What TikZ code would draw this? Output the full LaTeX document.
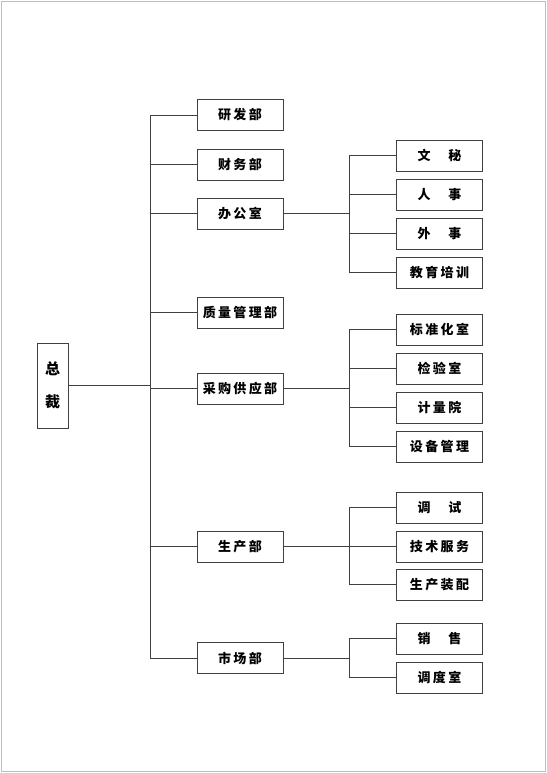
\documentclass[tikz,border=0pt]{standalone}
\usepackage{fontspec}
\newfontfamily\cjk{Noto Sans CJK SC}[LetterSpace=18]
\usepackage{tikz}
\usetikzlibrary{positioning,calc}

\begin{document}
\begin{tikzpicture}[
        x=1pt, y=-1pt,
        box/.style={draw=black!75, line width=0.9pt, inner sep=0pt,
            minimum width=86, minimum height=31, font=\cjk\bfseries\fontsize{13}{15}\selectfont},
        ceobox/.style={draw=black!75, line width=0.9pt, inner sep=0pt, align=center,
            minimum width=31, minimum height=85, font=\cjk\bfseries\fontsize{15}{33}\selectfont},
        link/.style={black!75, line width=0.7pt},
    ]
    \useasboundingbox (0,0) rectangle (546,773);
    % page frame
    \draw[black!25, line width=1pt] (1.5,1.5) rectangle (545,771.5);

    % top
    \node[ceobox] (ceo) at (52.5,385.5) {总\\裁};

    % departments
    \node[box] (rd)     at (240,115)   {研发部};
    \node[box] (fin)    at (240,164.5) {财务部};
    \node[box] (office) at (240,213.5) {办公室};
    \node[box] (qa)     at (240,312.5) {质量管理部};
    \node[box] (purch)  at (240,388.5) {采购供应部};
    \node[box] (prod)   at (240,546.5) {生产部};
    \node[box] (mkt)    at (240,658)   {市场部};

    % sections
    \foreach \name/\y/\txt in {sec/155.5/文　秘, hr/194.5/人　事, ext/233.5/外　事, edu/272.5/教育培训,
            std/329.5/标准化室, insp/368.5/检验室, meas/407.5/计量院, equip/446.5/设备管理,
            debug/507.5/调　试, tech/546.5/技术服务, assy/584.5/生产装配,
            sales/638.5/销　售, disp/677.5/调度室} {
        \node[box] (\name) at (439.5,\y) {\txt};
    }

    % main trunk
    \coordinate (trunk) at (150,0);
    \draw[link] (ceo.east) -- (ceo.east -| trunk);
    \draw[link] (trunk |- rd.west) -- (trunk |- mkt.west);
    \foreach \d in {rd,fin,office,qa,purch,prod,mkt} {
        \draw[link] (trunk |- \d.west) -- (\d.west);
    }

    % sub branches
    \coordinate (br) at (349,0);
    \foreach \p/\first/\last/\kids in {office/sec/edu/{sec,hr,ext,edu},
            purch/std/equip/{std,insp,meas,equip},
            prod/debug/assy/{debug,tech,assy},
            mkt/sales/disp/{sales,disp}} {
        \draw[link] (\p.east) -- (\p.east -| br);
        \draw[link] (br |- \first.west) -- (br |- \last.west);
        \foreach \c in \kids {
            \draw[link] (br |- \c.west) -- (\c.west);
        }
    }
\end{tikzpicture}
\end{document}
